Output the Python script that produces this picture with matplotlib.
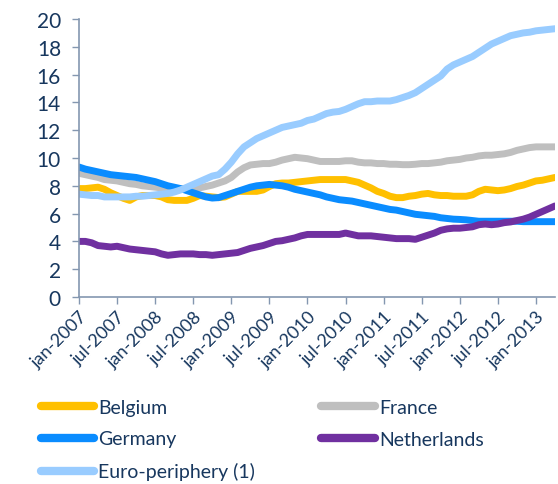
import matplotlib
matplotlib.use("Agg")
import matplotlib.pyplot as plt
import numpy as np

# Monthly series, jan-2007 .. apr-2013 (76 months)
belgium = [7.8, 7.8, 7.85, 7.9, 7.75, 7.5, 7.3, 7.1, 6.95, 7.2,
           7.3, 7.3, 7.3, 7.2, 7.0, 6.95, 6.95, 6.95, 7.1, 7.3,
           7.25, 7.2, 7.15, 7.2, 7.4, 7.6, 7.6, 7.6, 7.6, 7.7,
           7.95, 8.15, 8.2, 8.2, 8.25, 8.3, 8.35, 8.4, 8.45, 8.45,
           8.45, 8.45, 8.45, 8.35, 8.25, 8.05, 7.85, 7.6, 7.45, 7.25,
           7.15, 7.15, 7.25, 7.3, 7.4, 7.45, 7.35, 7.3, 7.3, 7.25,
           7.25, 7.25, 7.35, 7.6, 7.75, 7.7, 7.65, 7.7, 7.8, 7.95,
           8.05, 8.2, 8.35, 8.4, 8.5, 8.6]
france = [8.9, 8.8, 8.7, 8.6, 8.45, 8.4, 8.35, 8.25, 8.15, 8.1,
          8.0, 7.95, 7.9, 7.85, 7.8, 7.75, 7.8, 7.8, 7.8, 7.85,
          7.95, 8.05, 8.2, 8.35, 8.6, 9.0, 9.3, 9.5, 9.55, 9.6,
          9.6, 9.7, 9.85, 9.95, 10.05, 10.0, 9.95, 9.85, 9.75, 9.75,
          9.75, 9.75, 9.8, 9.8, 9.7, 9.65, 9.65, 9.6, 9.6, 9.55,
          9.55, 9.52, 9.52, 9.55, 9.6, 9.6, 9.65, 9.7, 9.8, 9.85,
          9.9, 10.0, 10.05, 10.15, 10.2, 10.2, 10.25, 10.3, 10.4, 10.55,
          10.65, 10.75, 10.8, 10.8, 10.8, 10.8]
germany = [9.35, 9.2, 9.1, 9.0, 8.9, 8.8, 8.75, 8.7, 8.65, 8.6,
           8.5, 8.4, 8.3, 8.15, 8.0, 7.9, 7.8, 7.65, 7.5, 7.35,
           7.2, 7.12, 7.15, 7.3, 7.45, 7.6, 7.75, 7.9, 8.0, 8.05,
           8.1, 8.05, 8.0, 7.9, 7.75, 7.65, 7.55, 7.45, 7.35, 7.2,
           7.1, 7.0, 6.95, 6.9, 6.8, 6.7, 6.6, 6.5, 6.4, 6.3,
           6.25, 6.15, 6.05, 5.95, 5.9, 5.85, 5.8, 5.7, 5.65, 5.6,
           5.58, 5.55, 5.5, 5.45, 5.45, 5.45, 5.45, 5.45, 5.45, 5.45,
           5.42, 5.42, 5.42, 5.42, 5.42, 5.42]
netherlands = [4.0, 4.0, 3.9, 3.7, 3.65, 3.6, 3.65, 3.55, 3.45, 3.4,
               3.35, 3.3, 3.25, 3.1, 3.0, 3.05, 3.1, 3.1, 3.1, 3.05,
               3.05, 3.0, 3.05, 3.1, 3.15, 3.2, 3.35, 3.5, 3.6, 3.7,
               3.85, 4.0, 4.05, 4.15, 4.25, 4.4, 4.5, 4.5, 4.5, 4.5,
               4.5, 4.5, 4.6, 4.5, 4.4, 4.4, 4.4, 4.35, 4.3, 4.25,
               4.2, 4.2, 4.2, 4.15, 4.3, 4.45, 4.6, 4.8, 4.9, 4.95,
               4.95, 5.0, 5.05, 5.2, 5.25, 5.2, 5.25, 5.35, 5.4, 5.5,
               5.6, 5.75, 5.95, 6.15, 6.35, 6.55]
periphery = [7.4, 7.35, 7.3, 7.3, 7.2, 7.2, 7.2, 7.2, 7.2, 7.25,
             7.25, 7.3, 7.35, 7.4, 7.45, 7.55, 7.7, 7.9, 8.1, 8.3,
             8.5, 8.7, 8.8, 9.2, 9.7, 10.3, 10.8, 11.1, 11.4, 11.6,
             11.8, 12.0, 12.2, 12.3, 12.4, 12.5, 12.7, 12.8, 13.0, 13.2,
             13.3, 13.35, 13.5, 13.7, 13.9, 14.05, 14.05, 14.1, 14.1, 14.1,
             14.2, 14.35, 14.5, 14.7, 15.0, 15.3, 15.6, 15.9, 16.4, 16.7,
             16.9, 17.1, 17.3, 17.6, 17.9, 18.2, 18.4, 18.6, 18.8, 18.9,
             19.0, 19.05, 19.15, 19.2, 19.25, 19.3]

tick_labels = ["jan-2007", "jul-2007", "jan-2008", "jul-2008", "jan-2009",
               "jul-2009", "jan-2010", "jul-2010", "jan-2011", "jul-2011",
               "jan-2012", "jul-2012", "jan-2013"]

txt = "#17375E"
axc = "#8497B0"
plt.rcParams['font.family'] = ['Lato', 'DejaVu Sans']

fig = plt.figure(figsize=(5.58, 4.85), dpi=100)
ax = fig.add_axes([79/558, 1 - 298/485, (555 - 79)/558, (298 - 20)/485])

months = np.arange(len(belgium))
lw = 5
lb, = ax.plot(months, belgium, color="#FFC000", lw=lw, solid_capstyle="round", label="Belgium")
lf, = ax.plot(months, france, color="#BFBFBF", lw=lw, solid_capstyle="round", label="France")
lg, = ax.plot(months, germany, color="#0A8CFF", lw=lw, solid_capstyle="round", label="Germany")
ln, = ax.plot(months, netherlands, color="#7030A0", lw=lw, solid_capstyle="round", label="Netherlands")
lp, = ax.plot(months, periphery, color="#99CCFF", lw=lw, solid_capstyle="round", label="Euro-periphery (1)")

ax.set_xlim(0, len(belgium) - 1)
ax.set_ylim(0, 20)
ax.set_yticks(range(0, 21, 2))
ax.set_xticks(range(0, 6 * len(tick_labels), 6))
ax.set_xticklabels(tick_labels, rotation=45, ha="right", rotation_mode="anchor")

for s in ["top", "right"]:
    ax.spines[s].set_visible(False)
for s in ["left", "bottom"]:
    ax.spines[s].set_color(axc)
    ax.spines[s].set_linewidth(1.2)
ax.tick_params(axis="y", colors=axc, labelcolor=txt, labelsize=15, length=5, pad=8, width=1)
ax.tick_params(axis="x", colors=axc, labelcolor=txt, labelsize=13, length=5, pad=3, width=1)

leg = fig.legend(handles=[lb, lg, lp, lf, ln], loc="upper left",
                 bbox_to_anchor=(31/558, 1 - 390/485), ncol=2, frameon=False,
                 fontsize=14, handlelength=2.75, handletextpad=0.22,
                 columnspacing=3.4, labelspacing=0.76, borderpad=0)
for t in leg.get_texts():
    t.set_color(txt)
for h in leg.get_lines():
    h.set_linewidth(6)

fig.savefig("out.png", dpi=100)
